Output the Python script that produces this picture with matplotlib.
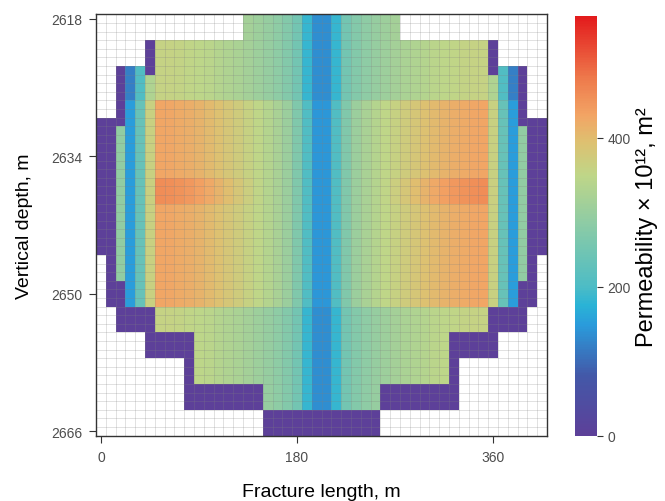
import numpy as np
import matplotlib
matplotlib.use("Agg")
import matplotlib.pyplot as plt
from matplotlib.colors import LinearSegmentedColormap

plt.rcParams["font.family"] = ["Liberation Sans", "DejaVu Sans"]

# cell centres of the fracture grid
fracture_x = list(range(0, 406, 9))   # m, 46 columns
depth = list(range(2618, 2667))       # m, 49 rows

# permeability across the fracture (x 1e-12 m2) for the three depth bands
perm_normal = [0, 0, 300, 120, 205, 330, 358, 357, 355, 352, 348, 343, 337, 330, 322, 314, 305, 296, 286, 272, 250, 185, 135,
               135, 185, 250, 272, 286, 296, 305, 314, 322, 330, 337, 343, 348, 352, 355, 357, 358, 330, 205, 120, 300, 0, 0]
perm_band = [0, 0, 290, 150, 235, 362, 428, 426, 422, 417, 410, 402, 393, 383, 372, 361, 349, 336, 321, 303, 268, 205, 145,
             145, 205, 268, 303, 321, 336, 349, 361, 372, 383, 393, 402, 410, 417, 422, 426, 428, 362, 235, 150, 290, 0, 0]
perm_peak = [0, 0, 290, 150, 235, 365, 458, 456, 451, 444, 435, 424, 411, 397, 382, 367, 352, 337, 321, 303, 268, 205, 145,
             145, 205, 268, 303, 321, 337, 352, 367, 382, 397, 411, 424, 435, 444, 451, 456, 458, 365, 235, 150, 290, 0, 0]
boundary_perm = 0
profiles = {"n": perm_normal, "o": perm_band, "h": perm_peak}

# band of every depth row (top to bottom)
row_band = "n" * 10 + "o" * 9 + "h" * 3 + "o" * 12 + "n" * 15

# cell map: "." no cell, "p" boundary cell, "x" fracture cell
cell_map = (
    ["." * 15 + "x" * 16 + "." * 15] * 3
    + ["." * 5 + "p" + "x" * 34 + "p" + "." * 5] * 3
    + [".." + "p" + "xx" + "p" + "x" * 34 + "p" + "xx" + "p" + ".."]
    + [".." + "p" + "x" * 40 + "p" + ".."] * 5
    + ["ppp" + "x" * 40 + "ppp"]
    + ["pp" + "x" * 42 + "pp"] * 15
    + [".p" + "x" * 42 + "p."] * 3
    + [".pp" + "x" * 40 + "pp."] * 3
    + [".." + "pppp" + "x" * 34 + "pppp" + ".."] * 3
    + ["." * 5 + "p" * 5 + "x" * 26 + "p" * 5 + "." * 5] * 3
    + ["." * 9 + "p" + "x" * 26 + "p" + "." * 9] * 3
    + ["." * 9 + "p" * 8 + "x" * 12 + "p" * 8 + "." * 9] * 3
    + ["." * 17 + "p" * 12 + "." * 17] * 3
)

# colour scale
scale_vals = [0, 80, 148, 175, 200, 282, 350, 395, 430, 480, 564]
scale_cols = ["#5d4099", "#4358a8", "#2a9bdb", "#2ab3d6", "#4dbcc5", "#8bcba6",
              "#bfd688", "#dec070", "#f2a565", "#ee7a4c", "#e31a1c"]
perm_max = 564

assert len(cell_map) == len(depth) == len(row_band)
perm = np.full((len(depth), len(fracture_x)), np.nan)
for i, (row, band) in enumerate(zip(cell_map, row_band)):
    assert len(row) == len(fracture_x)
    for j, c in enumerate(row):
        if c == "x":
            perm[i, j] = profiles[band][j]
        elif c == "p":
            perm[i, j] = boundary_perm

cmap = LinearSegmentedColormap.from_list(
    "perm", [(v / perm_max, c) for v, c in zip(scale_vals, scale_cols)])


def edges(centres):
    c = np.asarray(centres, dtype=float)
    mid = (c[:-1] + c[1:]) / 2
    return np.concatenate([[c[0] - (mid[0] - c[0])], mid, [c[-1] + (c[-1] - mid[-1])]])


x_edges = edges(fracture_x)
y_edges = edges(depth)

fig = plt.figure(figsize=(6.65, 5.02), dpi=100)
ax = fig.add_axes([0.1444, 0.1301, 0.6782, 0.8394])
cax = fig.add_axes([0.8647, 0.1301, 0.0331, 0.8366])

mesh = ax.pcolormesh(fracture_x, depth, np.ma.masked_invalid(perm), cmap=cmap,
                     vmin=0, vmax=perm_max, shading="nearest", zorder=1)

ax.set_xlim(x_edges[0], x_edges[-1])
ax.set_ylim(y_edges[-1], y_edges[0])
ax.set_xticks([0, 180, 360])
ax.set_yticks([2618, 2634, 2650, 2666])
ax.set_xticks(x_edges, minor=True)
ax.set_yticks(y_edges, minor=True)
ax.set_axisbelow(False)
ax.grid(which="minor", color="#808080", alpha=0.28, linewidth=0.6, zorder=2)
ax.grid(which="major", visible=False)
ax.tick_params(which="minor", length=0)
ax.tick_params(which="major", direction="out", length=5, width=0.8, color="#333333",
               labelsize=10, labelcolor="#4d4d4d", pad=5)
for s in ax.spines.values():
    s.set_color("#333333")
    s.set_linewidth(1.0)
    s.set_zorder(3)

ax.set_xlabel("Fracture length, m", fontsize=14)
ax.set_ylabel("Vertical depth, m", fontsize=14)
ax.xaxis.set_label_coords(0.5, -0.112)
ax.yaxis.set_label_coords(-0.14, 0.5)

cbar = fig.colorbar(mesh, cax=cax, ticks=[0, 200, 400])
cbar.outline.set_visible(False)
cax.tick_params(direction="out", length=4, width=0.8, color="#333333",
                labelsize=10, labelcolor="#4d4d4d")
cbar.set_label("Permeability × 10¹², m²", fontsize=17)
cax.yaxis.set_label_coords(2.75, 0.5)

fig.savefig("out.png", dpi=100)
